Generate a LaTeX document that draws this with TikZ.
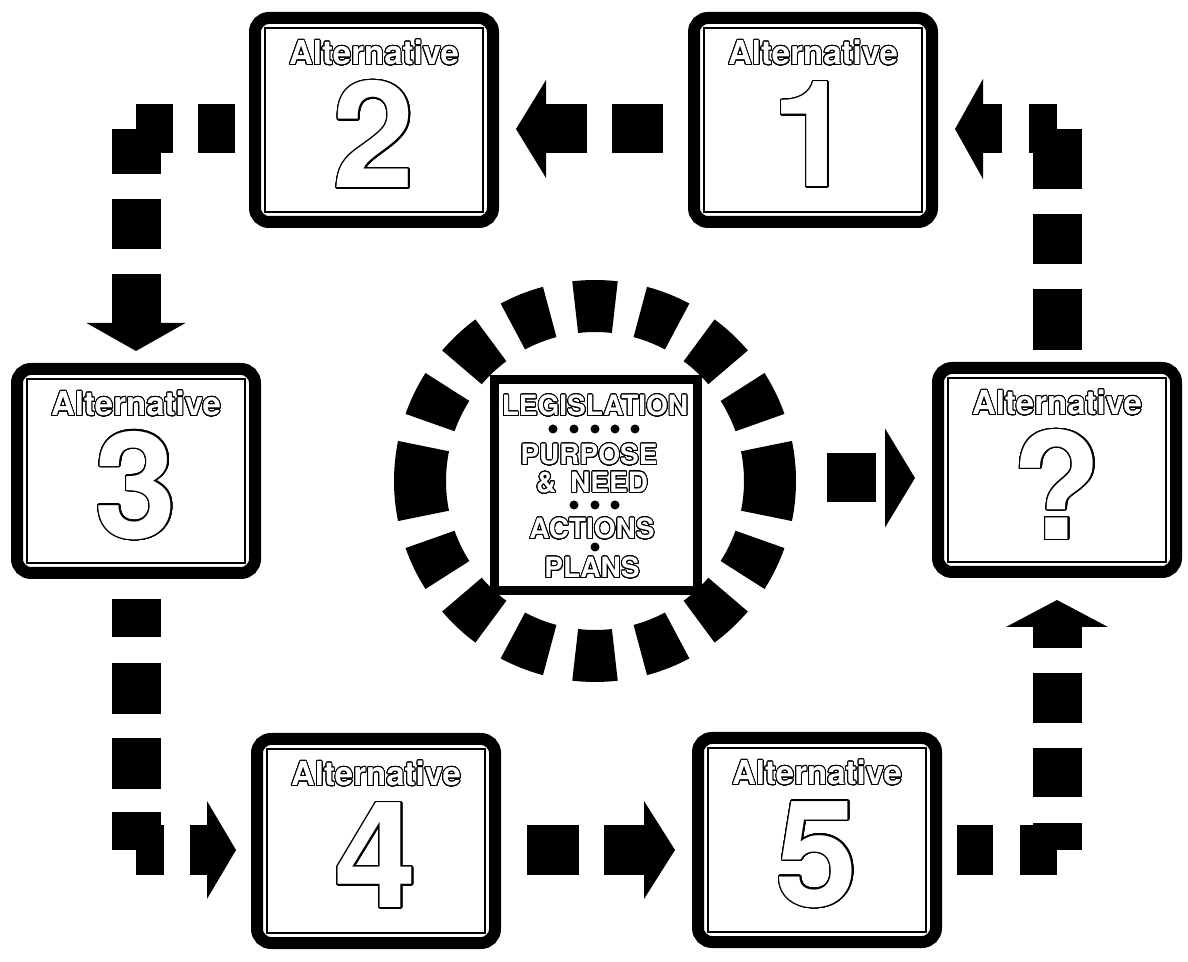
\documentclass[tikz,border=0pt]{standalone}
\usepackage{fontspec}
\setsansfont{TeX Gyre Heros}
\usepackage{contour}
\contournumber{32}
\usetikzlibrary{calc, positioning, arrows.meta}
\newcommand{\hollow}[2][0.9pt]{\contourlength{#1}\contour{black}{#2}}

\begin{document}
\begin{tikzpicture}[
    x=1pt, y=1pt,
    % Styles
    altbox/.style={rectangle, draw=black, line width=12pt, rounded corners=14pt, fill=white,
        minimum width=238pt, minimum height=204pt, inner sep=0pt,
        path picture={\draw[line width=1.5pt, sharp corners]
            ([shift={(10pt,-10pt)}]path picture bounding box.north west) rectangle
            ([shift={(-10pt,10pt)}]path picture bounding box.south east);}},
    alttitle/.style={text=white, inner sep=0pt, font=\sffamily\bfseries\fontsize{33}{36}\selectfont},
    altnum/.style={text=white, inner sep=0pt, font=\sffamily\bfseries\fontsize{148}{150}\selectfont},
    hubword/.style={text=white, inner sep=0pt, font=\sffamily\bfseries\fontsize{28}{30}\selectfont},
    hubbox/.style={rectangle, draw=black, line width=9pt, fill=white, minimum width=203pt, minimum height=211pt},
    link/.style={draw=black, line width=49pt, line cap=butt},
    spoke/.style={fill=black}
]
    \path[fill=white, use as bounding box] (0,0) rectangle (1188,961);

    % 1. THE ALTERNATIVES
    \node[altbox] (alt1) at (813,841) {};
    \node[altbox] (alt2) at (374,841) {};
    \node[altbox] (alt3) at (136,490) {};
    \node[altbox] (altq) at (1057,491) {};
    \node[altbox] (alt4) at (376,120) {};
    \node[altbox] (alt5) at (817,121) {};
    \foreach \b/\n in {alt1/1, alt2/2, alt3/3, alt4/4, alt5/5, altq/?} {
        \node[alttitle] (\b-title) at ([yshift=67pt]\b.center) {\hollow{Alternative}};
        \node[altnum] (\b-num) at ([yshift=-15pt]\b.center) {\hollow[1.3pt]{\n}};
    }

    % 2. THE HUB (ring of spokes round the square)
    \coordinate (hub) at (595,480);
    \foreach \a/\w in {0/11.5, 26/6.5, 47/6.5, 68.5/6.5, 90/6.5, 111.5/6.5, 133/6.5, 154/6.5,
                       180/11.5, 206/6.5, 227/6.5, 248.5/6.5, 270/6.5, 291.5/6.5, 313/6.5, 334/6.5}
        \fill[spoke] ($(hub)+(\a-\w:149)$) arc[start angle=\a-\w, end angle=\a+\w, radius=149]
            -- ($(hub)+(\a+\w:201)$) arc[start angle=\a+\w, end angle=\a-\w, radius=201] -- cycle;
    \node[hubbox] (hubsq) at (596,476) {};
    \node[hubword] (legis) at (595,555) {\hollow{LEGISLATION}};
    \node[hubword] (purpose) at (589,506) {\hollow{PURPOSE}};
    \node[hubword] (need) at (592,478) {\hollow{\&\hspace{0.5em}NEED}};
    \node[hubword] (actions) at (592,432) {\hollow{ACTIONS}};
    \node[hubword] (plans) at (592,393) {\hollow{PLANS}};
    \foreach \x in {553,574,595,615,635} \fill (\x,532) circle (4.5);
    \foreach \x in {574,595,615} \fill (\x,456) circle (4.5);
    \fill (595,414) circle (4.5);

    % 3. THE LINKS
    \coordinate (k23) at (136,832);
    \coordinate (k34) at (136,111);
    \coordinate (k5q) at (1057,111);
    \coordinate (kq1) at (1057,832);
    \coordinate (hubrow) at (596,483);

    % 1 -> 2
    \draw[link, dash pattern=on 0pt off 25pt on 51pt off 25pt on 300pt,
        -{Triangle[length=30pt, width=98pt, line width=0pt]}, shorten >=17pt]
        (kq1 -| alt1.west) -- (kq1 -| alt2.east);
    % 2 -> 3
    \draw[link, dash pattern=on 0pt off 14pt on 37pt off 25pt on 300pt] (k23 -| alt2.west) -- (k23);
    \draw[link, dash pattern=on 45pt off 25pt on 50pt off 25pt on 300pt,
        -{Triangle[length=28pt, width=99pt, line width=0pt]}, shorten >=12pt]
        (k23) -- (alt3.north);
    % 3 -> 4
    \draw[link, dash pattern=on 0pt off 20pt on 38pt off 26pt on 51pt off 24pt on 51pt off 23pt on 300pt]
        (alt3.south) -- (k34);
    \draw[link, dash pattern=on 28pt off 26pt on 300pt,
        -{Triangle[length=29pt, width=98pt, line width=0pt]}, shorten >=15pt]
        (k34) -- (k34 -| alt4.west);
    % 4 -> 5
    \draw[link, dash pattern=on 0pt off 26pt on 52pt off 25pt on 300pt,
        -{Triangle[length=31pt, width=98pt, line width=0pt]}, shorten >=17pt]
        (k34 -| alt4.east) -- (k34 -| alt5.west);
    % 5 -> ?
    \draw[link, dash pattern=on 0pt off 15pt on 36pt off 27pt on 300pt] (k5q -| alt5.east) -- (k5q);
    \draw[link, dash pattern=on 27pt off 26pt on 49pt off 25pt on 50pt off 25pt on 300pt,
        -{Triangle[length=27pt, width=102pt, line width=0pt]}, shorten >=22pt]
        (k5q) -- (altq.south);
    % ? -> 1
    \draw[link, dash pattern=on 0pt off 12pt on 61pt off 25pt on 50pt off 25pt on 300pt]
        (altq.north) -- (kq1);
    \draw[link, dash pattern=on 28pt off 27pt on 300pt,
        -{Triangle[length=28pt, width=100pt, line width=0pt]}, shorten >=17pt]
        (kq1) -- (kq1 -| alt1.east);
    % hub -> ?
    \draw[link, dash pattern=on 0pt off 125pt on 49pt off 100pt,
        -{Triangle[length=30pt, width=99pt, line width=0pt]}, shorten >=17pt]
        (hubrow -| hubsq.east) -- (hubrow -| altq.west);

\end{tikzpicture}
\end{document}
